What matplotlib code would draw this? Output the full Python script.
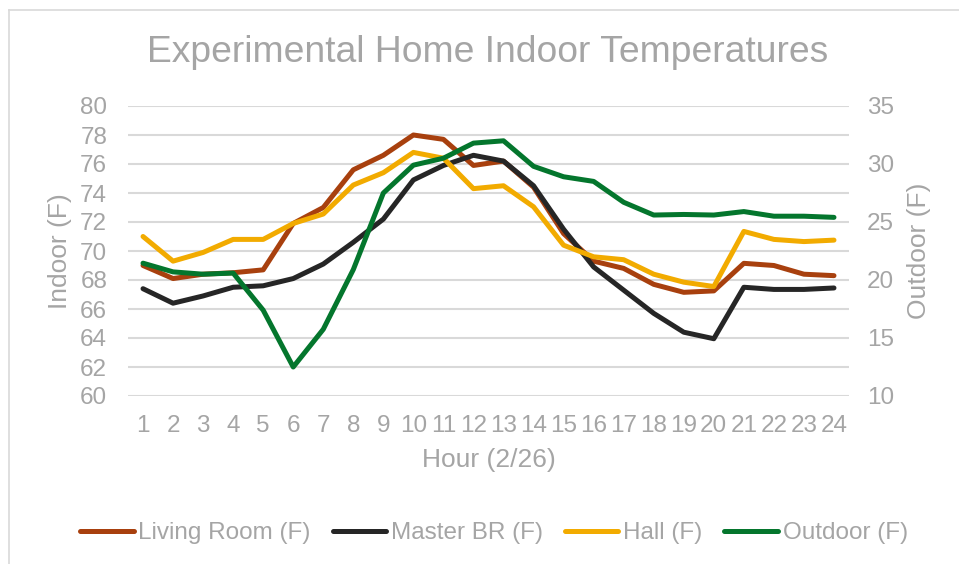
import matplotlib
matplotlib.use("Agg")
import matplotlib.pyplot as plt
from matplotlib.lines import Line2D

hours = list(range(1, 25))
hour_labels = [str(h) for h in hours]
living = [69.0, 68.1, 68.4, 68.5, 68.7, 71.9, 73.0, 75.6, 76.6, 78.0, 77.7, 75.9,
          76.2, 74.4, 71.2, 69.3, 68.8, 67.7, 67.15, 67.25, 69.15, 69.0, 68.4, 68.3]
master = [67.4, 66.4, 66.9, 67.5, 67.6, 68.1, 69.1, 70.6, 72.2, 74.9, 75.9, 76.6,
          76.2, 74.5, 71.5, 68.9, 67.3, 65.7, 64.4, 63.95, 67.5, 67.35, 67.35, 67.45]
hall = [71.0, 69.3, 69.9, 70.8, 70.8, 71.9, 72.55, 74.55, 75.4, 76.8, 76.4, 74.3,
        74.5, 73.05, 70.4, 69.6, 69.4, 68.4, 67.85, 67.55, 71.35, 70.8, 70.65, 70.75]
outdoor = [21.45, 20.7, 20.5, 20.6, 17.4, 12.5, 15.75, 20.9, 27.5, 29.9, 30.5, 31.8,
           32.0, 29.8, 28.9, 28.5, 26.7, 25.6, 25.65, 25.6, 25.9, 25.5, 25.5, 25.4]
names = ["Living Room (F)", "Master BR (F)", "Hall (F)", "Outdoor (F)"]
colors = ["#A8400E", "#262626", "#F2AB00", "#04762D"]

plt.rcParams['font.family'] = ['Liberation Sans', 'DejaVu Sans']
TXT = "#A5A5A5"
GRID = "#D9D9D9"
W, H = 959, 564

fig = plt.figure(figsize=(W / 100, H / 100), dpi=100)
L, R, T, B = 128, 849, 106, 396
ax = fig.add_axes([L / W, 1 - B / H, (R - L) / W, (B - T) / H])
ax2 = ax.twinx()

lw = 3.6
for data, c, n in zip([living, master, hall], colors[:3], names[:3]):
    ax.plot(hours, data, color=c, lw=lw, solid_capstyle='round', solid_joinstyle='round', label=n, zorder=3)
ax2.plot(hours, outdoor, color=colors[3], lw=lw, solid_capstyle='round', solid_joinstyle='round', label=names[3], zorder=3)

ax.set_xlim(0.5, 24.5)
ax.set_ylim(60, 80)
ax.set_yticks(range(60, 81, 2))
ax2.set_ylim(10, 35)
ax2.set_yticks(range(10, 36, 5))
ax.set_xticks(hours)
ax.set_xticklabels(hour_labels)

ax.grid(axis='y', color=GRID, lw=1.5)
ax.set_axisbelow(True)
for a in (ax, ax2):
    for s in a.spines.values():
        s.set_visible(False)
ax.tick_params(axis='x', length=0, pad=14, labelsize=17.5, labelcolor=TXT)
ax.tick_params(axis='y', length=0, pad=15, labelsize=17.5, labelcolor=TXT)
ax2.tick_params(axis='y', length=0, pad=13, labelsize=17.5, labelcolor=TXT)

fig.text(488 / W, 1 - 62 / H, "Experimental Home Indoor Temperatures", ha='center', va='baseline',
         fontsize=26.8, color=TXT)
fig.text(488.5 / W, 1 - 460 / H, "Hour (2/26)", ha='center', va='center', fontsize=19, color=TXT)
fig.text(60 / W, 1 - 251 / H, "Indoor (F)", ha='center', va='center', rotation=90, fontsize=19, color=TXT)
fig.text(919 / W, 1 - 251 / H, "Outdoor (F)", ha='center', va='center', rotation=90, fontsize=19, color=TXT)

handles = [Line2D([0], [0], color=c, lw=lw, solid_capstyle='round') for c in colors]
fig.legend(handles, names, loc='center', bbox_to_anchor=(494 / W, 1 - 533 / H), ncol=4, frameon=False,
           fontsize=17.5, labelcolor=TXT, handlelength=2.2, handletextpad=0.2, columnspacing=0.9,
           borderaxespad=0)

# chart border (left and top edges visible)
fig.add_artist(Line2D([9 / W, 9 / W], [0, 1 - 10 / H], color=GRID, lw=1.2, transform=fig.transFigure))
fig.add_artist(Line2D([9 / W, 1], [1 - 10 / H, 1 - 10 / H], color=GRID, lw=1.2, transform=fig.transFigure))

fig.savefig("out.png", dpi=100)
